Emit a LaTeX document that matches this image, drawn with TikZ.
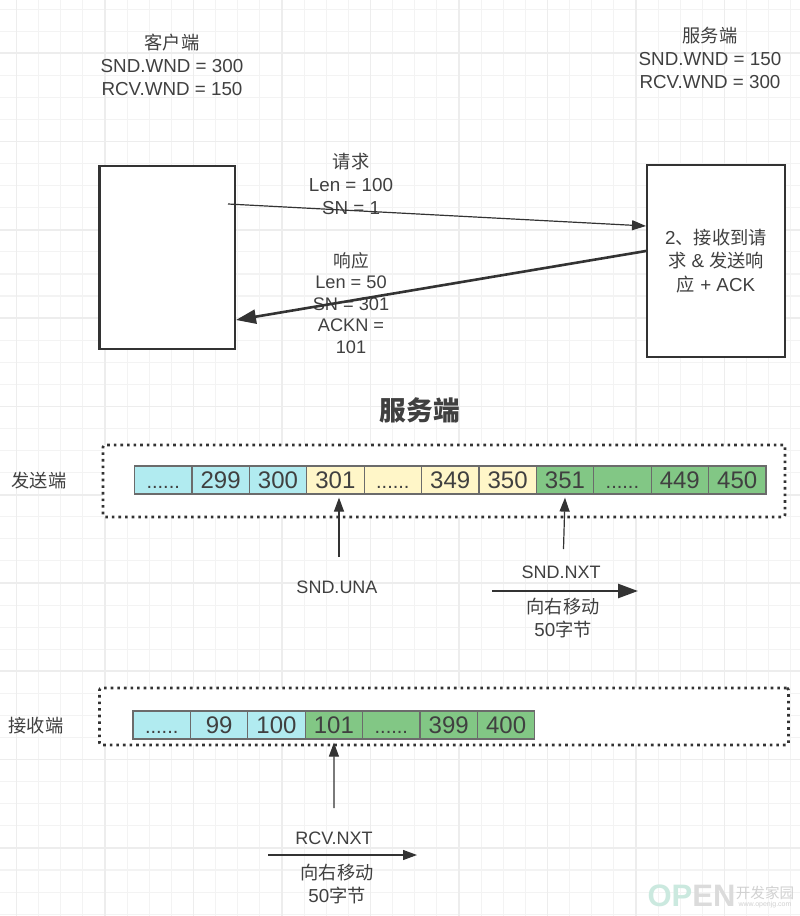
\documentclass[tikz,border=0pt]{standalone}
\usepackage{fontspec}
\setmainfont{Liberation Sans}
\newfontfamily\cjk[Scale=0.97]{Noto Sans CJK SC}
\usetikzlibrary{arrows.meta}
\newcommand{\zh}[1]{{\cjk #1}}
\newcommand{\celldots}{{\fontsize{20}{20}\selectfont ......}}
\definecolor{ink}{HTML}{404040}
\definecolor{edge}{HTML}{333333}
\definecolor{cellblue}{HTML}{B1EBF0}
\definecolor{cellyellow}{HTML}{FFF6C8}
\definecolor{cellgreen}{HTML}{82C785}
\definecolor{markgreen}{HTML}{CBE9DF}
\definecolor{gridlight}{HTML}{F3F3F3}
\definecolor{gridstrong}{HTML}{EDEDED}
\tikzset{x=1pt, y=-1pt,
gridminor/.style={draw=gridlight, line width=1.1pt}, % Page grid
gridmajor/.style={draw=gridstrong, line width=1.7pt},
hostbox/.style={ % Client and server boxes
draw=edge,
fill=white,
line width=2.4pt,
anchor=center,
inner sep=0pt},
dotbox/.style={ % Dotted frame round a row of cells
draw=edge,
fill=white,
line width=2.6pt,
rounded corners=2pt,
dash pattern=on 2.6pt off 4pt},
cellbox/.style={ % One byte cell
draw=black!58,
line width=1.2pt,
minimum width=57.4pt,
minimum height=28pt,
inner sep=0pt,
text height=17pt,
text depth=0pt,
text=ink,
font=\fontsize{24}{24}\selectfont},
blue/.style={cellbox, fill=cellblue},
yellow/.style={cellbox, fill=cellyellow},
green/.style={cellbox, fill=cellgreen},
lbl/.style={ % Plain text
text=ink,
inner sep=0pt,
align=center,
font=\fontsize{18.8}{22.8}\selectfont},
ptrlbl/.style={lbl, font=\fontsize{18}{22.8}\selectfont}, % Name under a pointer
thinarrow/.style={draw=edge, line width=1.2pt, -{Triangle[length=14pt,width=10pt]}},
thickarrow/.style={draw=edge, line width=2.6pt, -{Triangle[length=20pt,width=14pt]}}}

\begin{document}
\begin{tikzpicture}
\useasboundingbox (0,0) rectangle (800,916);
\begin{scope}
\clip (0,0) rectangle (800,916);
\fill[white] (0,0) rectangle (800,916);
\draw[gridminor, shift={(105,53.2)}, xstep=22.125pt, ystep=22.075pt] (-110,-60) grid (700,870);
\draw[gridmajor, shift={(105,53.2)}, xstep=88.5pt, ystep=88.3pt] (-110,-60) grid (700,870);
\end{scope}

% hosts
\node[hostbox, minimum width=135.5pt, minimum height=183pt] (client) at (167.25,257.5) {};
\node[hostbox, minimum width=138pt, minimum height=192pt, text=ink, align=center, font=\fontsize{18.8}{23.5}\selectfont] (server) at (716,261) {2\zh{、接收到请}\\\zh{求} \& \zh{发送响}\\\zh{应} + ACK};
\node[lbl] (clientinfo) at (172,65) {\zh{客户端}\\SND.WND = 300\\RCV.WND = 150};
\node[lbl] (serverinfo) at (710,58) {\zh{服务端}\\SND.WND = 150\\RCV.WND = 300};
\node[lbl] (reqinfo) at (351,184) {\zh{请求}\\Len = 100\\SN = 1};
\node[lbl, font=\fontsize{18.2}{21.5}\selectfont] (respinfo) at (351,303) {\zh{响应}\\Len = 50\\SN = 301\\ACKN =\\101};
\node[lbl, text=ink, font=\cjk\bfseries\fontsize{27.5}{30}\selectfont] (title) at (420,410) {服务端};

% sender row
\node[dotbox, minimum width=682pt, minimum height=72pt] (sendframe) at (444,481) {};
\node[lbl] (sendname) at (39,481) {\zh{发送端}};
\node[blue] (s0) at (163.2,480) {\celldots};
\node[blue] (s299) at (220.6,480) {299};
\node[blue] (s300) at (278,480) {300};
\node[yellow] (s301) at (335.4,480) {301};
\node[yellow] (s1) at (392.8,480) {\celldots};
\node[yellow] (s349) at (450.2,480) {349};
\node[yellow] (s350) at (507.6,480) {350};
\node[green] (s351) at (565,480) {351};
\node[green] (s2) at (622.4,480) {\celldots};
\node[green] (s449) at (679.8,480) {449};
\node[green] (s450) at (737.2,480) {450};

% receiver row
\node[dotbox, minimum width=689pt, minimum height=57pt] (recvframe) at (444,716.5) {};
\node[lbl] (recvname) at (36,726) {\zh{接收端}};
\node[blue] (r0) at (161.7,725) {\celldots};
\node[blue] (r99) at (219.1,725) {99};
\node[blue] (r100) at (276.5,725) {100};
\node[green] (r101) at (333.9,725) {101};
\node[green] (r1) at (391.3,725) {\celldots};
\node[green] (r399) at (448.7,725) {399};
\node[green] (r400) at (506.1,725) {400};

% pointer labels
\node[ptrlbl] (una) at (337,587) {SND.UNA};
\node[ptrlbl] (nxt) at (561,572) {SND.NXT};
\node[lbl] (nxtmove) at (563,618) {\zh{向右移动}\\50\zh{字节}};
\node[ptrlbl] (rcv) at (334,838) {RCV.NXT};
\node[lbl] (rcvmove) at (337,884) {\zh{向右移动}\\50\zh{字节}};

% free ends
\coordinate (reqstart) at (228,204);
\coordinate (reqend) at (646,226);
\coordinate (respstart) at (646,251);
\coordinate (respend) at (236,320);
\coordinate (unatail) at (339,557);
\coordinate (nxttail) at (563.5,549);
\coordinate (rcvtail) at (334,808);
\coordinate (moveA) at (492,591);
\coordinate (moveB) at (638,591);
\coordinate (moveC) at (268,855);
\coordinate (moveD) at (417,855);

\draw[thinarrow] (reqstart) -- (reqend);
\draw[thickarrow] (respstart) -- (respend);
\draw[thinarrow] (unatail) -- ([xshift=3.6pt,yshift=-3pt]s301.south);
\draw[thinarrow] (nxttail) -- ([yshift=-3pt]s351.south);
\draw[thinarrow] (rcvtail) -- ([yshift=-3pt]r101.south);
\draw[thickarrow] (moveA) -- (moveB);
\draw[thinarrow] (moveC) -- (moveD);

% watermark
\node[inner sep=0pt, text=markgreen, font=\bfseries\fontsize{31}{31}\selectfont] (markA) at (670,896) {OP};
\node[inner sep=0pt, text=black!14, font=\bfseries\fontsize{31}{31}\selectfont] (markB) at (714,896) {EN};
\node[inner sep=0pt, text=black!18, font=\cjk\fontsize{15}{15}\selectfont] (markC) at (765,893) {开发家园};
\node[inner sep=0pt, text=black!18, font=\fontsize{7}{7}\selectfont] (markD) at (765,905) {www.openjg.com};
\end{tikzpicture}
\end{document}
